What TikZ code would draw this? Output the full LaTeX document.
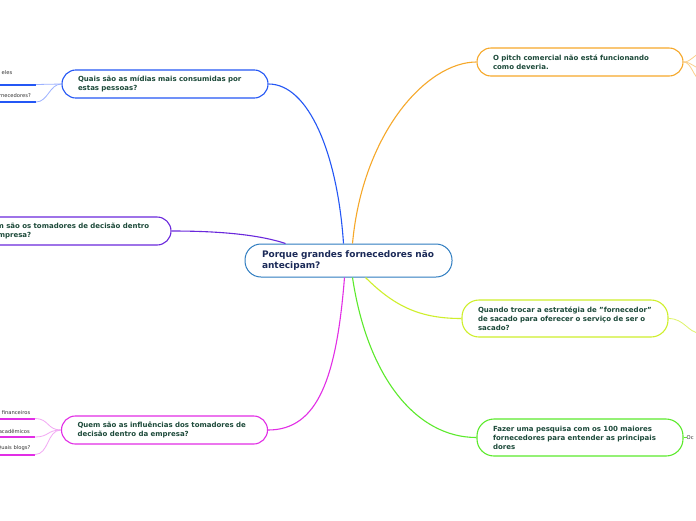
\documentclass[tikz,border=0pt]{standalone}
\usepackage{fontspec}
\setmainfont{DejaVu Sans}
\definecolor{cblue}{HTML}{2457F5}
\definecolor{lblue}{HTML}{9DB2FF}
\definecolor{cpurple}{HTML}{6A28DC}
\definecolor{cmag}{HTML}{E22EE6}
\definecolor{lmag}{HTML}{F2A8F4}
\definecolor{corange}{HTML}{F6A82A}
\definecolor{lorange}{HTML}{FAD08C}
\definecolor{cyellow}{HTML}{CFEF2C}
\definecolor{lyellow}{HTML}{DFF36A}
\definecolor{cgreen}{HTML}{5CEA2C}
\definecolor{ccenter}{HTML}{2E7CC0}
\definecolor{boxtext}{HTML}{1D4A3A}
\definecolor{navy}{HTML}{1B2A58}
\definecolor{subtext}{HTML}{333333}
\begin{document}
\begin{tikzpicture}[x=1pt,y=-1pt,
  box/.style={draw, line width=1.1pt, rounded corners=14pt, fill=white,
    font=\fontsize{7}{9}\selectfont\bfseries, text=boxtext, align=left,
    inner xsep=16pt, inner ysep=6pt, text width=174pt, minimum height=28pt},
  box3/.style={box, rounded corners=17pt, minimum height=37pt},
  cbox/.style={draw=ccenter, line width=1pt, rounded corners=16pt, fill=white,
    font=\fontsize{9}{10.5}\selectfont\bfseries, text=navy, align=left,
    inner xsep=17pt, inner ysep=6pt, text width=173pt, minimum height=33pt},
  conn/.style={line width=1.1pt},
  subconn/.style={line width=0.8pt},
  uline/.style={line width=2pt},
  sub/.style={font=\fontsize{5.2}{6.5}\selectfont, text=subtext, inner sep=0pt},
]
\useasboundingbox (0,0) rectangle (696,520);
\fill[white] (0,0) rectangle (696,520);
\clip (0,0) rectangle (696,520);

% main nodes
\node[cbox] (C) at (348.5,260.5) {Porque grandes fornecedores não\\antecipam?};
\node[box, draw=cblue] (Q1) at (165,84) {Quais são as mídias mais consumidas por\\estas pessoas?};
\node[box, draw=cpurple] (Q2) at (68,231) {Quem são os tomadores de decisão dentro\\da empresa?};
\node[box, draw=cmag] (Q3) at (164.5,430) {Quem são as influências dos tomadores de\\decisão dentro da empresa?};
\node[box, draw=corange] (R1) at (580,62) {O pitch comercial não está funcionando\\como deveria.};
\node[box3, draw=cyellow] (R2) at (565,318.5) {Quando trocar a estratégia de "fornecedor"\\de sacado para oferecer o serviço de ser o\\sacado?};
\node[box3, draw=cgreen] (R3) at (580,437.5) {Fazer uma pesquisa com os 100 maiores\\fornecedores para entender as principais\\dores};

% main connectors
\draw[conn, cblue] ([xshift=-5pt]C.north) .. controls +(-6,-90) and +(40,0) .. (Q1.east);
\draw[conn, corange] ([xshift=4pt]C.north) .. controls +(10,-110) and +(-50,0) .. (R1.west);
\draw[conn, cpurple] ([xshift=-63pt]C.north) .. controls +(-30,-10) and +(40,0) .. (Q2.east);
\draw[conn, cmag] ([xshift=-4pt]C.south) .. controls +(-8,100) and +(50,0) .. (Q3.east);
\draw[conn, cyellow] ([xshift=17pt]C.south) .. controls +(30,30) and +(-40,0) .. (R2.west);
\draw[conn, cgreen] ([xshift=4pt]C.south) .. controls +(15,100) and +(-60,0) .. (R3.west);

% left subtopics of Q1
\node[sub, anchor=east] (a1) at (12.5,72.5) {eles};
\coordinate (a1s) at (-3,84.5); \coordinate (a1e) at (36,84.5);
\draw[uline, cblue] (a1s) -- (a1e);
\draw[subconn, lblue] (a1e) .. controls +(12,0) and +(-12,0) .. (Q1.west);
\node[sub, anchor=east] (a2) at (31,96) {fornecedores?};
\coordinate (a2s) at (-3,102); \coordinate (a2e) at (36,102);
\draw[uline, cblue] (a2s) -- (a2e);
\draw[subconn, lblue] (a2e) .. controls +(12,0) and +(-12,0) .. (Q1.west);

% left subtopics of Q3
\node[sub, anchor=east] (b1) at (30.5,413) {financeiros};
\coordinate (b1s) at (-3,418.5); \coordinate (b1e) at (35,418.5);
\draw[uline, cmag] (b1s) -- (b1e);
\draw[subconn, lmag] (b1e) .. controls +(14,0) and +(-14,0) .. (Q3.west);
\node[sub, anchor=east] (b2) at (30,431) {acadêmicos};
\coordinate (b2s) at (-3,437); \coordinate (b2e) at (35,437);
\draw[uline, cmag] (b2s) -- (b2e);
\draw[subconn, lmag] (b2e) .. controls +(14,0) and +(-14,0) .. (Q3.west);
\node[sub, anchor=east] (b3) at (30.5,448.5) {Quais blogs?};
\coordinate (b3s) at (-3,454.5); \coordinate (b3e) at (35,454.5);
\draw[uline, cmag] (b3s) -- (b3e);
\draw[subconn, lmag] (b3e) .. controls +(14,0) and +(-14,0) .. (Q3.west);

% right side branches
\coordinate (o1) at (700,54);
\coordinate (o2) at (700,68);
\coordinate (o3) at (700,79);
\draw[subconn, lorange] (R1.east) .. controls +(8,0) and +(-6,0) .. (o1);
\draw[subconn, lorange] (R1.east) .. controls +(8,0) and +(-6,0) .. (o2);
\draw[subconn, lorange] (R1.east) .. controls +(8,0) and +(-6,0) .. (o3);
\coordinate (y1) at (700,333);
\draw[subconn, lyellow] (R2.east) .. controls +(16,0) and +(-12,0) .. (y1);
\node[sub, anchor=west] (g1) at (686.5,437.5) {Oc};
\draw[subconn, cgreen] (R3.east) -- (g1.west);
\end{tikzpicture}
\end{document}
